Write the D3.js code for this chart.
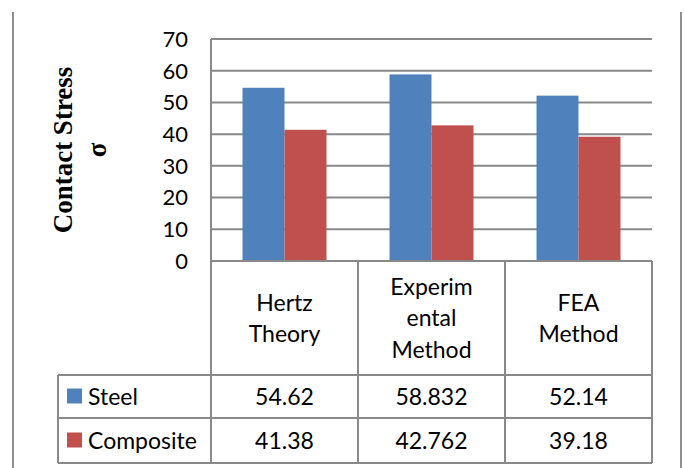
<!DOCTYPE html>
<html>
<head>
<meta charset="utf-8">
<script src="https://cdn.jsdelivr.net/npm/d3@7"></script>
<style>
  body { margin: 0; background: #fff; }
  svg { display: block; }
</style>
</head>
<body>
<div id="chart"></div>
<script>
const categories = [['Hertz', 'Theory'], ['Experim', 'ental', 'Method'], ['FEA', 'Method']];
const categoryNames = ['Hertz Theory', 'Experimental Method', 'FEA Method'];
const series = ['Steel', 'Composite'];
const steel = [54.62, 58.832, 52.14];
const composite = [41.38, 42.762, 39.18];
const valueLabels = [['54.62', '58.832', '52.14'], ['41.38', '42.762', '39.18']];
const yTicks = [0, 10, 20, 30, 40, 50, 60, 70];
const colors = ['#4f81bd', '#c0504d'];

const width = 685, height = 468;
const gridColor = '#898989';
const font = 'Lato, "Open Sans", sans-serif';

const svg = d3.select('#chart').append('svg')
  .attr('width', width)
  .attr('height', height);

const plotLeft = 211, plotRight = 652, plotTop = 39, plotBottom = 261;
const legendLeft = 58;
const rowTops = [261, 375, 418, 463];

const y = d3.scaleLinear().domain([0, 70]).range([plotBottom, plotTop]);
const x = d3.scaleBand().domain(categoryNames).range([plotLeft, plotRight]);
const xs = d3.scaleBand().domain(series).range([0, x.bandwidth()]).paddingOuter(0.75);

// outer frame lines
svg.append('line').attr('x1', 13).attr('x2', 13).attr('y1', 12).attr('y2', height)
  .attr('stroke', '#8f8f8f').attr('stroke-width', 2);
svg.append('line').attr('x1', 681).attr('x2', 681).attr('y1', 12).attr('y2', height)
  .attr('stroke', '#8f8f8f').attr('stroke-width', 2);

// gridlines
svg.append('g').selectAll('line')
  .data(yTicks)
  .join('line')
    .attr('x1', plotLeft).attr('x2', plotRight)
    .attr('y1', d => y(d)).attr('y2', d => y(d))
    .attr('stroke', gridColor).attr('stroke-width', 2);

// y tick labels
svg.append('g').selectAll('text')
  .data(yTicks)
  .join('text')
    .attr('x', 188)
    .attr('y', d => y(d))
    .attr('dy', '0.36em')
    .attr('text-anchor', 'end')
    .attr('font-family', font)
    .attr('font-size', 22)
    .attr('fill', '#000')
    .text(d => d);

// bars
const seriesData = [steel, composite];
series.forEach((s, si) => {
  svg.append('g').selectAll('rect')
    .data(seriesData[si])
    .join('rect')
      .attr('x', (d, i) => x(categoryNames[i]) + xs(s))
      .attr('width', xs.bandwidth())
      .attr('y', d => y(d))
      .attr('height', d => y(0) - y(d))
      .attr('fill', colors[si]);
});

// data table lines
const tbl = svg.append('g').attr('stroke', gridColor).attr('stroke-width', 2);
tbl.append('line').attr('x1', plotLeft).attr('x2', plotLeft).attr('y1', plotTop).attr('y2', rowTops[3]);
categoryNames.forEach(c => {
  tbl.append('line')
    .attr('x1', x(c) + x.bandwidth()).attr('x2', x(c) + x.bandwidth())
    .attr('y1', plotBottom).attr('y2', rowTops[3]);
});
tbl.append('line').attr('x1', legendLeft).attr('x2', legendLeft).attr('y1', rowTops[1]).attr('y2', rowTops[3]);
tbl.append('line').attr('x1', plotLeft).attr('x2', plotRight).attr('y1', rowTops[0]).attr('y2', rowTops[0]);
[1, 2, 3].forEach(r => {
  tbl.append('line').attr('x1', legendLeft).attr('x2', plotRight).attr('y1', rowTops[r]).attr('y2', rowTops[r]);
});

// category labels
const lineH = 31.5;
categories.forEach((lines, i) => {
  const cx = x(categoryNames[i]) + x.bandwidth() / 2;
  const cy = (rowTops[0] + rowTops[1]) / 2;
  const t = svg.append('text')
    .attr('text-anchor', 'middle')
    .attr('font-family', font)
    .attr('font-size', 23)
    .attr('fill', '#000');
  lines.forEach((l, j) => {
    t.append('tspan')
      .attr('x', cx)
      .attr('y', cy + (j - (lines.length - 1) / 2) * lineH)
      .attr('dy', '0.36em')
      .text(l);
  });
});

// value rows + legend keys
series.forEach((s, si) => {
  const cy = (rowTops[si + 1] + rowTops[si + 2]) / 2;
  svg.append('rect')
    .attr('x', 67).attr('y', cy - 8)
    .attr('width', 15).attr('height', 15)
    .attr('fill', colors[si]);
  svg.append('text')
    .attr('x', 88).attr('y', cy).attr('dy', '0.36em')
    .attr('font-family', font).attr('font-size', 23).attr('fill', '#000')
    .text(s);
  svg.append('g').selectAll('text')
    .data(valueLabels[si])
    .join('text')
      .attr('x', (d, i) => x(categoryNames[i]) + x.bandwidth() / 2)
      .attr('y', cy).attr('dy', '0.36em')
      .attr('text-anchor', 'middle')
      .attr('font-family', font).attr('font-size', 23).attr('fill', '#000')
      .text(d => d);
});

// y axis title
const title = svg.append('text')
  .attr('transform', 'translate(80,150) rotate(-90)')
  .attr('text-anchor', 'middle')
  .attr('font-family', '"Liberation Serif", "Times New Roman", serif')
  .attr('font-weight', 'bold')
  .attr('font-size', 27)
  .attr('fill', '#000');
title.append('tspan').attr('x', 0).attr('y', -17).attr('dy', '0.35em').text('Contact Stress');
title.append('tspan').attr('x', 0).attr('y', 17).attr('dy', '0.35em').text('σ');
</script>
</body>
</html>
